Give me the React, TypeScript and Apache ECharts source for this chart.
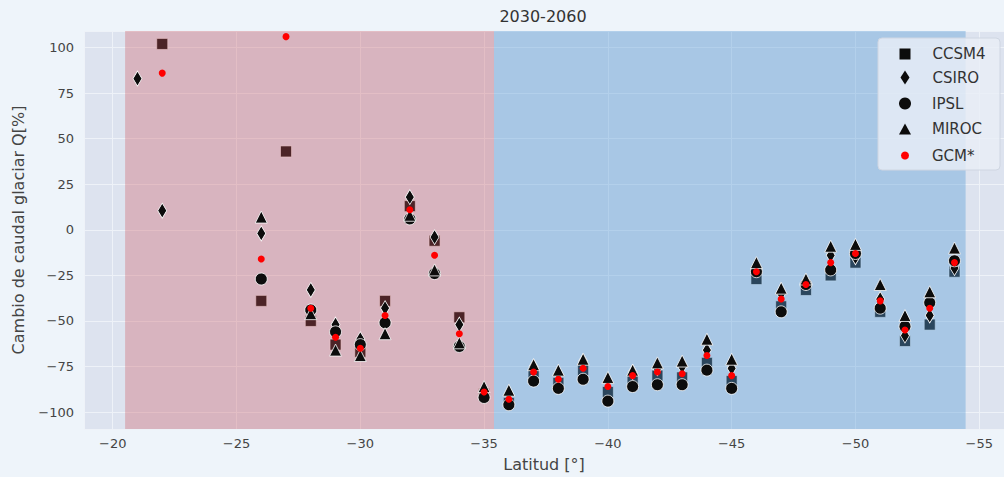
import React, { useEffect, useRef } from "react";
import * as echarts from "echarts";

const latitudes = [-21, -22, -26, -27, -28, -29, -30, -31, -32, -33, -34, -35, -36, -37, -38, -39, -40, -41, -42, -43, -44, -45, -46, -47, -48, -49, -50, -51, -52, -53, -54];
const ccsm4 = [null, 102, -39, 43, -50, -63, -67, -39, 13, -6, -48, -90, -95, -79, -84, -77, -89, -82, -80, -81, -73, -83, -27, -42, -33, -25, -18, -45, -61, -52, -23];
const csiro = [83, 10.5, -2, null, -33, -52, -60, -43, 18, -4, -52, -88, -90, -75, -79, -72, -83, -78, -76, -75, -66, -76, -21, -35, -29, -14, -15, -38, -58, -47, -21];
const ipsl = [null, null, -27, null, -44, -56, -63, -51, 6, -24, -64, -92, -96, -83, -87, -82, -94, -86, -85, -85, -77, -87, -23, -45, -30, -22, -13, -43, -53, -40, -17];
const miroc = [null, null, 7, null, -46, -66, -69, -57, 8, -22, -62, -86, -88, -74, -77, -71, -81, -77, -73, -72, -60, -71, -18, -32, -27, -9, -8, -30, -47, -34, -10];
const gcm = [null, 86, -16, 106, -43, -59, -65, -47, 11, -14, -57, -89, -93, -78, -82, -76, -86, -80, -78, -79, -69, -80, -23, -38, -30, -18, -13, -39, -55, -43, -18];

const seriesNames = ["CCSM4", "CSIRO", "IPSL", "MIROC", "GCM*"];
const regionPink = [-20.5, -35.4];
const regionBlue = [-35.4, -54.45];

const FONT = "DejaVu Sans";

function pairs(vals: (number | null)[]) {
  const out: number[][] = [];
  vals.forEach((v, i) => {
    if (v !== null) out.push([latitudes[i], v]);
  });
  return out;
}

const minusFmt = (v: number) => String(v).replace("-", "\u2212");

export default function App() {
  const ref = useRef<HTMLDivElement>(null);
  useEffect(() => {
    if (!ref.current) return;
    const chart = echarts.init(ref.current, null, { renderer: "svg" });
    const black = "#0c0c0c";
    const legendBase = (name: string, top: number, size: number[], icon: string, pad: number, color: string) => ({
      data: [{ name, icon, itemStyle: { color, opacity: 1, borderWidth: 0 } }],
      left: 905 - size[0] / 2,
      top: top - size[1] / 2,
      padding: 0,
      itemWidth: size[0],
      itemHeight: size[1],
      z: 12,
      selectedMode: false,
      textStyle: { fontFamily: FONT, fontSize: 15, color: "#333", padding: [0, 0, 0, pad] },
    });
    chart.setOption({
      animation: false,
      backgroundColor: "#eef4fa",
      textStyle: { fontFamily: FONT },
      title: {
        text: "2030-2060",
        left: 543,
        top: 8,
        padding: 0,
        textAlign: "center",
        textStyle: { fontFamily: FONT, fontSize: 16, fontWeight: "normal", color: "#333" },
      },
      grid: {
        left: 84,
        right: 0,
        top: 31,
        bottom: 47,
        show: true,
        backgroundColor: "#dde3ef",
        borderWidth: 0,
      },
      xAxis: {
        type: "value",
        inverse: true,
        min: -56,
        max: -18.84,
        splitNumber: 7,
        minInterval: 5,
        maxInterval: 5,
        name: "Latitud [°]",
        nameLocation: "middle",
        nameGap: 27,
        nameTextStyle: { fontFamily: FONT, fontSize: 16, color: "#444" },
        axisLine: { show: false },
        axisTick: { show: false },
        axisLabel: { fontFamily: FONT, fontSize: 13, color: "#444", margin: 8, showMinLabel: false, showMaxLabel: false, formatter: minusFmt },
        splitLine: { show: true, lineStyle: { color: "#eef2f8", width: 1 } },
      },
      yAxis: {
        type: "value",
        min: -109.3,
        max: 109.1,
        splitNumber: 9,
        minInterval: 25,
        maxInterval: 25,
        name: "Cambio de caudal glaciar Q[%]",
        nameLocation: "middle",
        nameGap: 58,
        nameTextStyle: { fontFamily: FONT, fontSize: 16, color: "#444" },
        axisLine: { show: false },
        axisTick: { show: false },
        axisLabel: { fontFamily: FONT, fontSize: 13, color: "#444", margin: 10, showMinLabel: false, showMaxLabel: false, formatter: minusFmt },
        splitLine: { show: true, lineStyle: { color: "#eef2f8", width: 1 } },
      },
      legend: [
        legendBase("CCSM4", 52, [11, 11], "rect", 17, black),
        legendBase("CSIRO", 77, [9, 14], "diamond", 18, black),
        legendBase("IPSL", 102, [12, 12], "circle", 16, black),
        legendBase("MIROC", 127, [12, 11], "triangle", 16, black),
        legendBase("GCM*", 152, [8, 8], "circle", 18, "#ff0000"),
      ],
      graphic: [
        {
          type: "rect",
          z: 10,
          shape: { x: 878, y: 38, width: 122, height: 132, r: 4 },
          style: { fill: "rgba(233,238,247,0.82)", stroke: "#cfd6e2", lineWidth: 1 },
        },
      ],
      series: [
        {
          name: seriesNames[0],
          type: "scatter",
          z: 2,
          symbol: "rect",
          symbolSize: 11,
          data: pairs(ccsm4),
          itemStyle: { color: black, opacity: 1, borderColor: "#ffffff", borderWidth: 0.6 },
        },
        {
          name: "spans",
          type: "scatter",
          z: 3,
          data: [],
          markArea: {
            z: 3,
            silent: true,
            data: [
              [{ xAxis: regionPink[0], itemStyle: { color: "rgba(206,85,94,0.33)" } }, { xAxis: regionPink[1] }],
              [{ xAxis: regionBlue[0], itemStyle: { color: "rgba(91,157,216,0.40)" } }, { xAxis: regionBlue[1] }],
            ],
          },
        },
        {
          name: seriesNames[1],
          type: "scatter",
          z: 4,
          symbol: "diamond",
          symbolSize: [9, 15],
          data: pairs(csiro),
          itemStyle: { color: black, opacity: 1, borderColor: "#ffffff", borderWidth: 0.8 },
        },
        {
          name: seriesNames[2],
          type: "scatter",
          z: 4,
          symbol: "circle",
          symbolSize: 12,
          data: pairs(ipsl),
          itemStyle: { color: black, opacity: 1, borderColor: "#ffffff", borderWidth: 0.8 },
        },
        {
          name: seriesNames[3],
          type: "scatter",
          z: 4,
          symbol: "triangle",
          symbolSize: 12,
          data: pairs(miroc),
          itemStyle: { color: black, opacity: 1, borderColor: "#ffffff", borderWidth: 0.8 },
        },
        {
          name: seriesNames[4],
          type: "scatter",
          z: 5,
          symbol: "circle",
          symbolSize: 7,
          data: pairs(gcm),
          itemStyle: { color: "#ff0000", opacity: 1 },
        },
      ],
    });
    return () => chart.dispose();
  }, []);
  return <div ref={ref} style={{ width: 1004, height: 477, position: "absolute", left: 0, top: 0 }} />;
}
